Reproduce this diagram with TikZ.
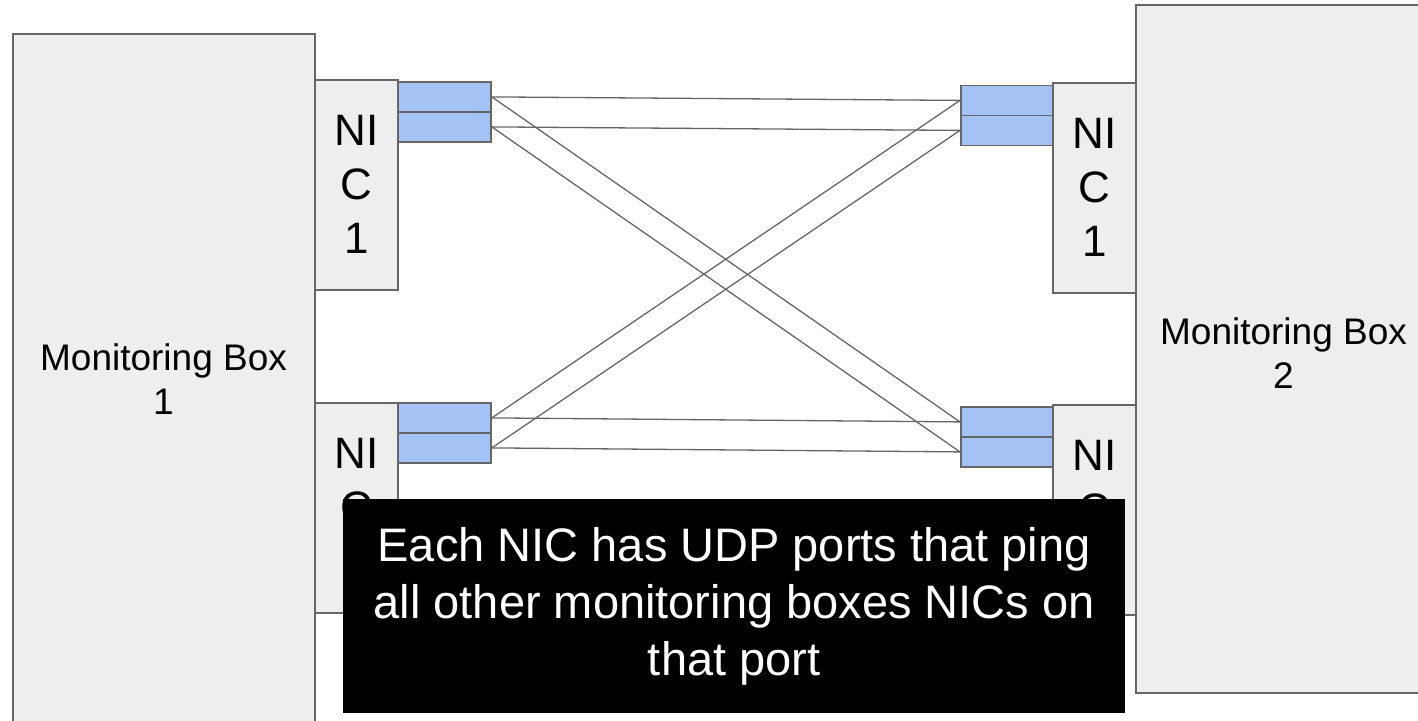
\documentclass[tikz,border=0pt]{standalone}
\usepackage{fontspec}
\setmainfont{Liberation Sans}
\definecolor{linegray}{HTML}{666666}
\definecolor{boxfill}{HTML}{EEEEEE}
\definecolor{portblue}{HTML}{A4C2F4}
\begin{document}
\begin{tikzpicture}[x=1pt,y=-1pt,
  box/.style={draw=linegray, line width=1.8pt, fill=boxfill, rectangle, inner sep=0pt, anchor=north west},
  nicbox/.style={box, minimum width=83pt, minimum height=210pt},
  port/.style={draw=linegray, line width=1.8pt, fill=portblue, rectangle, inner sep=0pt, anchor=north west, minimum height=30pt},
  boxtext/.style={anchor=north, align=center, inner sep=0pt, font=\fontsize{37}{44}\selectfont},
  nictext/.style={anchor=north, align=center, inner sep=0pt, font=\fontsize{44}{54}\selectfont},
  wire/.style={draw=linegray, line width=1.3pt},
  note/.style={fill=black, text=white, anchor=north west, align=center, inner sep=0pt, minimum width=782pt, minimum height=214pt, font=\fontsize{47}{57}\selectfont}
]
\useasboundingbox (0,0) rectangle (1418,720);
\clip (0,0) rectangle (1418,720);

% monitoring boxes
\node[box, minimum width=302pt, minimum height=760pt] (mb1) at (12,33) {};
\node[box, minimum width=310pt, minimum height=688pt] (mb2) at (1135,4) {};
\node[boxtext] (mb1t) at (163.5,343) {Monitoring Box\\1};
\node[boxtext] (mb2t) at (1283.5,317) {Monitoring Box\\2};

% NICs
\node[nicbox] (nicL1) at (314,79) {};
\node[nicbox] (nicL2) at (314,402) {};
\node[nicbox] (nicR1) at (1052,82) {};
\node[nicbox] (nicR2) at (1052,404) {};
\node[nictext] (nicL1t) at ([yshift=-36pt]nicL1.north) {NI\\C\\1};
\node[nictext] (nicL2t) at ([yshift=-36pt]nicL2.north) {NI\\C};
\node[nictext] (nicR1t) at ([yshift=-36pt]nicR1.north) {NI\\C\\1};
\node[nictext] (nicR2t) at ([yshift=-36pt]nicR2.north) {NI\\C};

% ports
\node[port, minimum width=93pt] (pL1a) at (397,81) {};
\node[port, minimum width=93pt] (pL1b) at (397,111) {};
\node[port, minimum width=93pt] (pL2a) at (397,402) {};
\node[port, minimum width=93pt] (pL2b) at (397,432) {};
\node[port, minimum width=92pt] (pR1a) at (960,84.5) {};
\node[port, minimum width=92pt] (pR1b) at (960,114.5) {};
\node[port, minimum width=92pt] (pR2a) at (960,406) {};
\node[port, minimum width=92pt] (pR2b) at (960,436) {};

% connectors
\draw[wire] (pL1a.east) -- (pR1a.west);
\draw[wire] (pL1b.east) -- (pR1b.west);
\draw[wire] (pL1a.east) -- (pR2a.west);
\draw[wire] (pL1b.east) -- (pR2b.west);
\draw[wire] (pL2a.east) -- (pR1a.west);
\draw[wire] (pL2b.east) -- (pR1b.west);
\draw[wire] (pL2a.east) -- (pR2a.west);
\draw[wire] (pL2b.east) -- (pR2b.west);

% note
\node[note] (note) at (343,499) {Each NIC has UDP ports that ping\\all other monitoring boxes NICs on\\that port};
\end{tikzpicture}
\end{document}
